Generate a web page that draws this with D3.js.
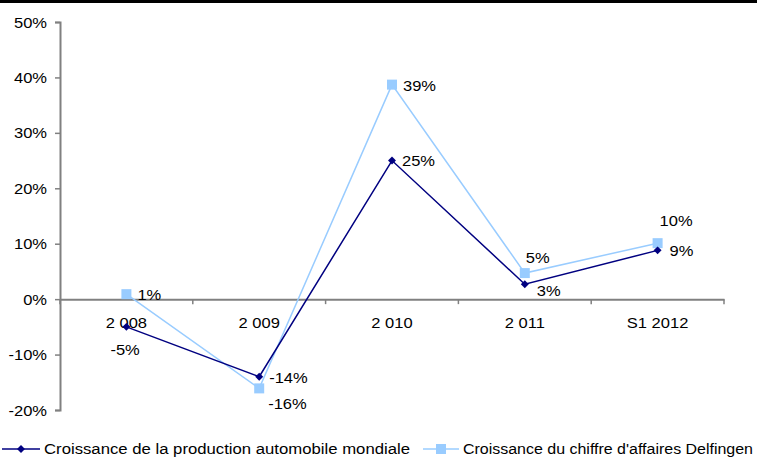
<!DOCTYPE html>
<html>
<head>
<meta charset="utf-8">
<script src="https://cdn.jsdelivr.net/npm/d3@7"></script>
<style>
  html, body { margin: 0; padding: 0; background: #fff; }
  svg { display: block; font-family: "Liberation Sans", Arial, sans-serif; }
</style>
</head>
<body>
<svg id="chart" width="757" height="457"></svg>
<script>
// Years on the horizontal axis
const categories = ["2 008", "2 009", "2 010", "2 011", "S1 2012"];
// Growth of world car production (%)
const production = [-5, -14, 25, 2.7, 8.8];
const productionLabels = ["-5%", "-14%", "25%", "3%", "9%"];
// Growth of Delfingen revenue (%)
const delfingen = [0.9, -16.1, 38.7, 4.7, 10.1];
const delfingenLabels = ["1%", "-16%", "39%", "5%", "10%"];
// Vertical axis ticks
const yTicks = [-20, -10, 0, 10, 20, 30, 40, 50];
const seriesNames = ["Croissance de la production automobile mondiale",
                     "Croissance du chiffre d'affaires Delfingen"];

const svg = d3.select("#chart");
const navy = "#000080", light = "#99CCFF", axisCol = "#808080";
const FS = 14, SX = 1.18; // font size and horizontal stretch of the text

// text helper: stretched horizontally around its anchor point
function label(parent, px, py, str, anchor) {
  return parent.append("text")
    .attr("transform", `translate(${px},${py}) scale(${SX},1)`)
    .attr("text-anchor", anchor || "start")
    .attr("font-size", FS).attr("fill", "#000").text(str);
}

const x = d3.scaleBand().domain(categories).range([60, 724]).padding(0);
const y = d3.scaleLinear().domain([-20, 50]).range([410, 22]);

// top rule
svg.append("rect").attr("x", 0).attr("y", 0).attr("width", 757).attr("height", 3).attr("fill", "#000");

// y axis
const yAxis = svg.append("g").attr("transform", "translate(60,0)")
  .call(d3.axisLeft(y).tickValues(yTicks).tickSize(5).tickFormat(""));
yAxis.select(".domain").attr("stroke", axisCol).attr("stroke-width", 2);
yAxis.selectAll(".tick line").attr("stroke", axisCol).attr("stroke-width", 1.5);
yAxis.selectAll(".tick").each(function(d) {
  label(d3.select(this), -13, 5, d + "%", "end");
});

// x axis at 0%
const xAxis = svg.append("g").attr("transform", `translate(0,${y(0)})`)
  .call(d3.axisBottom(x).tickSize(0).tickFormat(""));
xAxis.select(".domain").attr("stroke", axisCol).attr("stroke-width", 2);
xAxis.selectAll(".tick").remove();
// boundary ticks between categories
const bounds = categories.map(c => x(c)).concat([x.range()[1]]);
xAxis.selectAll("line.b").data(bounds).enter().append("line")
  .attr("x1", d => d).attr("x2", d => d).attr("y1", 0).attr("y2", 5)
  .attr("stroke", axisCol).attr("stroke-width", 1.5);

const cx = d => x(d) + x.bandwidth() / 2;

// category labels
categories.forEach(c => label(svg, cx(c), y(0) + 29, c, "middle"));

const line = d3.line().x(d => cx(d[0])).y(d => y(d[1]));

// Delfingen series
svg.append("path").datum(categories.map((c, i) => [c, delfingen[i]]))
  .attr("d", line).attr("fill", "none").attr("stroke", light).attr("stroke-width", 1.5);
svg.selectAll("rect.m2").data(delfingen).enter().append("rect")
  .attr("x", (d, i) => cx(categories[i]) - 5).attr("y", d => y(d) - 5)
  .attr("width", 10).attr("height", 10).attr("fill", light);

// production series
svg.append("path").datum(categories.map((c, i) => [c, production[i]]))
  .attr("d", line).attr("fill", "none").attr("stroke", navy).attr("stroke-width", 1.5);
const diamond = d3.symbol().type(d3.symbolDiamond2).size(40);
svg.selectAll("path.m1").data(production).enter().append("path")
  .attr("d", diamond)
  .attr("transform", (d, i) => `translate(${cx(categories[i])},${y(d)})`)
  .attr("fill", navy);

// data labels (offsets relative to each point)
const prodOffsets = [[-16, 28], [10, 6], [10, 5], [12, 12], [12, 6]];
const delfOffsets = [[11, 6], [9, 21], [11, 6], [1, -10], [2, -17]];
production.forEach((d, i) => label(svg, cx(categories[i]) + prodOffsets[i][0],
  y(d) + prodOffsets[i][1], productionLabels[i]));
delfingen.forEach((d, i) => label(svg, cx(categories[i]) + delfOffsets[i][0],
  y(d) + delfOffsets[i][1], delfingenLabels[i]));

// legend: each entry's text is fitted to its slot
const leg = svg.append("g");
const ly = 449;
function legendText(px, width, str) {
  leg.append("text").attr("x", px).attr("y", ly + 5)
    .attr("font-size", FS).attr("fill", "#000")
    .attr("textLength", width).attr("lengthAdjust", "spacingAndGlyphs").text(str);
}
leg.append("line").attr("x1", 2).attr("x2", 40).attr("y1", ly).attr("y2", ly)
  .attr("stroke", navy).attr("stroke-width", 1.5);
leg.append("path").attr("d", diamond).attr("transform", `translate(21,${ly})`).attr("fill", navy);
legendText(44, 366, seriesNames[0]);
leg.append("line").attr("x1", 423).attr("x2", 459).attr("y1", ly).attr("y2", ly)
  .attr("stroke", light).attr("stroke-width", 1.5);
leg.append("rect").attr("x", 436).attr("y", ly - 5).attr("width", 10).attr("height", 10).attr("fill", light);
legendText(463, 290, seriesNames[1]);
</script>
</body>
</html>
